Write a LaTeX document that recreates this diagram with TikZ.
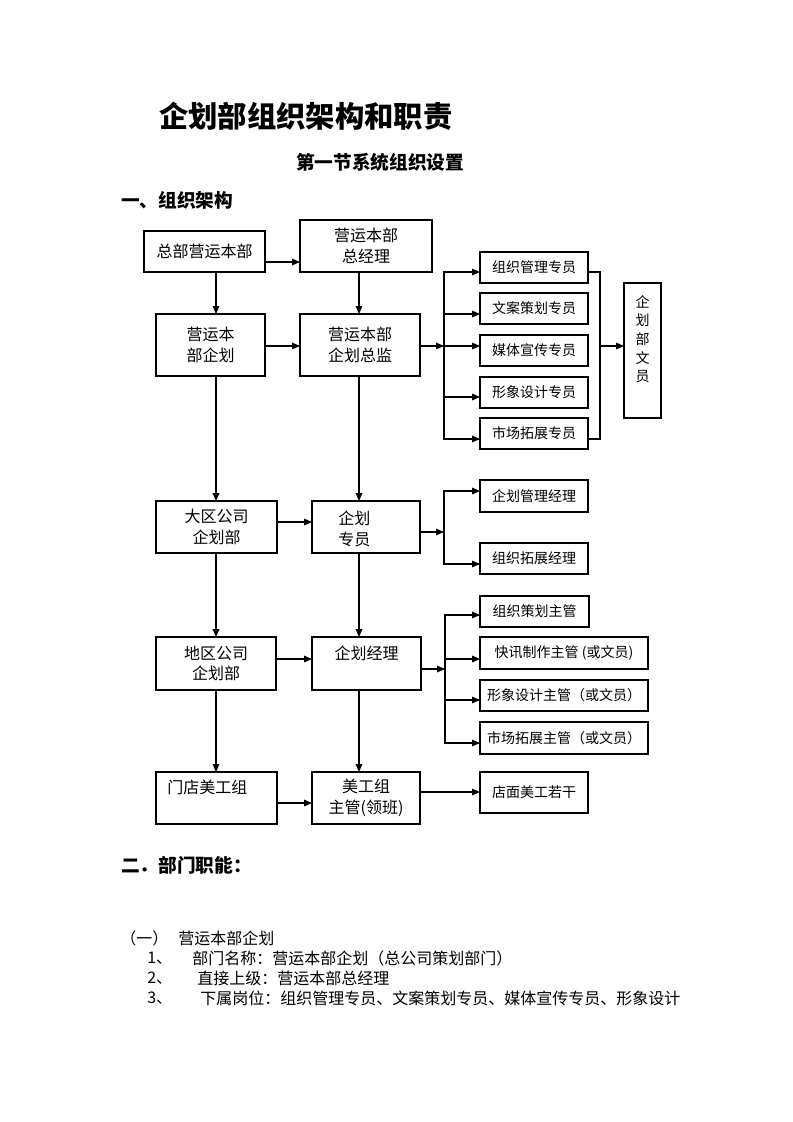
\documentclass[tikz,border=0pt]{standalone}
\usepackage{fontspec}
\setmainfont{Noto Sans CJK SC}
\usetikzlibrary{arrows.meta, positioning, calc}

\def\pxl{0.75pt}
\tikzset{
  box/.style={draw, line width=0.8pt, inner sep=0pt, outer sep=0pt, anchor=north west,
    align=center, font=\fontsize{12}{15.5}\selectfont},
  smallbox/.style={box, font=\fontsize{10.5}{14}\selectfont},
  wh/.style 2 args={minimum width=#1*\pxl, minimum height=#2*\pxl},
  txt/.style={inner sep=0pt, align=left, font=\fontsize{12}{15.5}\selectfont},
  head/.style={inner sep=0pt, anchor=west, font=\bfseries\fontsize{14}{16}\selectfont},
  conn/.style={line width=0.8pt},
  arr/.style={conn, -{Triangle[length=6pt, width=5pt]}},
}

\begin{document}
\begin{tikzpicture}[x=\pxl, y=-\pxl]
    \useasboundingbox (0,0) rectangle (793,1122);

    % headings
    \node[head, font=\bfseries\fontsize{22}{26}\selectfont] (title) at (159,116) {企划部组织架构和职责};
    \node[head, font=\bfseries\fontsize{14}{17}\selectfont] (sect) at (296,162) {第一节系统组织设置};
    \node[head] (h1) at (121,200) {一、组织架构};

    % first level
    \node[box, wh={121}{41}] (zbyy) at (144,231) {总部营运本部};
    \node[box, wh={132}{52}] (zjl) at (300,220) {营运本部\\总经理};
    \node[box, wh={109}{62}] (yyqh) at (156,314) {营运本\\部企划};
    \node[box, wh={120}{62}] (qhzj) at (300,314) {营运本部\\企划总监};

    % specialists
    \node[smallbox, wh={108}{31}] (s1) at (480,252) {组织管理专员};
    \node[smallbox, wh={108}{31}] (s2) at (480,293) {文案策划专员};
    \node[smallbox, wh={108}{31}] (s3) at (480,335) {媒体宣传专员};
    \node[smallbox, wh={108}{31}] (s4) at (480,377) {形象设计专员};
    \node[smallbox, wh={108}{31}] (s5) at (480,418) {市场拓展专员};
    \node[smallbox, wh={37}{135}] (wy) at (624,283) {};
    \node[txt, anchor=north, align=center, font=\fontsize{10.5}{14}\selectfont] (wyt)
      at ([yshift=-12*\pxl]wy.north) {企\\划\\部\\文\\员};

    % region level
    \node[box, wh={121}{52}] (dq) at (156,501) {大区公司\\企划部};
    \node[box, wh={108}{52}] (zy) at (312,501) {};
    \node[txt, anchor=north west] (zyt) at ([shift={(26,10)}]zy.north west) {企划\\专员};
    \node[smallbox, wh={108}{32}] (glj) at (480,480) {企划管理经理};
    \node[smallbox, wh={108}{31}] (tzj) at (480,543) {组织拓展经理};

    % area level
    \node[box, wh={120}{53}] (dqq) at (156,637) {地区公司\\企划部};
    \node[box, wh={109}{53}] (qhjl) at (312,637) {};
    \node[txt, anchor=north] (qhjlt) at ([yshift=-9*\pxl]qhjl.north) {企划经理};
    \node[smallbox, wh={109}{31}] (z1) at (480,596) {组织策划主管};
    \node[smallbox, wh={168}{32}] (z2) at (480,637) {快讯制作主管 (或文员)};
    \node[smallbox, wh={168}{31}] (z3) at (480,680) {形象设计主管（或文员）};
    \node[smallbox, wh={168}{32}] (z4) at (480,722) {市场拓展主管（或文员）};

    % shop level
    \node[box, wh={121}{52}] (md) at (156,772) {};
    \node[txt, anchor=north west] (mdt) at ([shift={(11,8)}]md.north west) {门店美工组};
    \node[box, wh={108}{52}] (mg) at (312,772) {美工组\\主管(领班)};
    \node[smallbox, wh={108}{41}] (dm) at (480,772) {店面美工若干};

    % columns and junctions
    \coordinate (c1) at (216,0);
    \coordinate (c2) at (359,0);
    \coordinate (j1) at (444,346);
    \coordinate (j2) at (600,346);
    \coordinate (j3) at (444,532);
    \coordinate (j4) at (445,669);

    \foreach \a/\b in {zbyy/yyqh, yyqh/dq, dq/dqq, dqq/md}
      \draw[arr] (\a.south -| c1) -- (\b.north -| c1);
    \foreach \a/\b in {zjl/qhzj, qhzj/zy, zy/qhjl, qhjl/mg}
      \draw[arr] (\a.south -| c2) -- (\b.north -| c2);

    \foreach \a/\b/\y in {zbyy/zjl/262, yyqh/qhzj/346, dq/zy/522, dqq/qhjl/659, md/mg/803, mg/dm/792}
      \draw[arr] (\a.east |- 0,\y) -- (\b.west |- 0,\y);

    % brackets
    \draw[arr] (qhzj.east |- j1) -- (j1);
    \foreach \n/\y in {s1/272, s2/314, s3/346, s4/397, s5/439}
      \draw[arr] (j1) |- (\n.west |- 0,\y);
    \draw[conn] (s1.east |- 0,272) -| (j2) |- (s5.east |- 0,439);
    \draw[arr] (j2) -- (wy.west |- j2);

    \draw[arr] (zy.east |- j3) -- (j3);
    \foreach \n/\y in {glj/491, tzj/564}
      \draw[arr] (j3) |- (\n.west |- 0,\y);

    \draw[arr] (qhjl.east |- j4) -- (j4);
    \foreach \n/\y in {z1/615, z2/659, z3/700, z4/743}
      \draw[arr] (j4) |- (\n.west |- 0,\y);

    % department functions
    \node[head] (h2) at (121,865) {二．部门职能：};
    \node[txt, anchor=west] (l0a) at (120,938) {（一）};
    \node[txt, anchor=west] (l0b) at (178,938) {营运本部企划};
    \node[txt, anchor=west] (l1a) at (147,958) {1、};
    \node[txt, anchor=west] (l1b) at (192,958) {部门名称：营运本部企划（总公司策划部门）};
    \node[txt, anchor=west] (l2a) at (147,978) {2、};
    \node[txt, anchor=west] (l2b) at (197,978) {直接上级：营运本部总经理};
    \node[txt, anchor=west] (l3a) at (147,998) {3、};
    \node[txt, anchor=west] (l3b) at (200,998) {下属岗位：组织管理专员、文案策划专员、媒体宣传专员、形象设计};
\end{tikzpicture}
\end{document}
